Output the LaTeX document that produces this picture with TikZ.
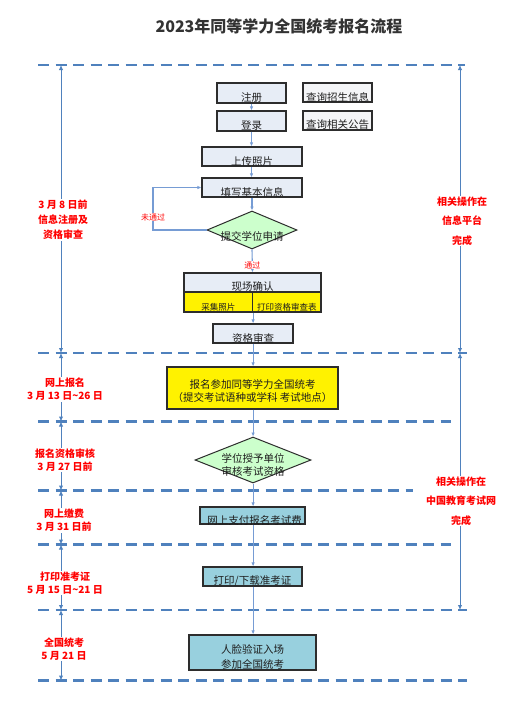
\documentclass[tikz,border=0pt]{standalone}
\usepackage{fontspec}
\setmainfont{Noto Sans CJK SC}
\usetikzlibrary{arrows.meta,shapes.geometric}
\definecolor{dashblue}{RGB}{79,129,189}
\definecolor{flowblue}{RGB}{118,156,212}
\definecolor{boxfill}{RGB}{231,237,246}
\definecolor{qfill}{RGB}{244,245,247}
\definecolor{cyanfill}{RGB}{152,208,222}
\definecolor{greenfill}{RGB}{204,255,204}
\definecolor{bordergray}{RGB}{45,45,45}
\definecolor{titlegray}{RGB}{51,51,51}
\definecolor{textdark}{RGB}{30,30,30}
\begin{document}
\begin{tikzpicture}[x=1pt,y=-1pt,
  sep/.style={draw=dashblue, line width=2.6pt, dash pattern=on 11pt off 6.5pt},
  span/.style={draw=dashblue, line width=1pt, {Latex[length=5pt,width=4.5pt]}-{Latex[length=5pt,width=4.5pt]}},
  flow/.style={draw=flowblue, line width=1.1pt, -{Latex[length=4pt,width=3.5pt]}},
  box/.style={rectangle, draw=bordergray, line width=1.2pt, fill=boxfill, inner sep=0pt},
  dia/.style={diamond, draw=bordergray, line width=1pt, fill=greenfill, inner sep=0pt},
  bt/.style={font=\fontsize{10.5}{13}\selectfont, text=textdark, align=center},
  st/.style={font=\fontsize{8.5}{10}\selectfont, text=textdark, align=center},
  redl/.style={font=\bfseries\fontsize{10}{13}\selectfont, text=red, fill=white, align=center, inner sep=1pt},
  reds/.style={font=\fontsize{8}{9}\selectfont, text=red, fill=white, inner sep=0.5pt},
]
\useasboundingbox (0,0) rectangle (506,712);
\fill[white] (0,0) rectangle (506,712);

% title
\node[font=\bfseries\fontsize{16}{18}\selectfont, text=titlegray] (title) at (279,26) {2023年同等学力全国统考报名流程};

% dashed separators
\draw[sep] (38,65) -- (465,65);
\draw[sep] (38,353) -- (467,353);
\draw[sep] (38,421.5) -- (451,421.5);
\draw[sep] (38,490.5) -- (413,490.5);
\draw[sep] (38,544.5) -- (451,544.5);
\draw[sep] (38,610) -- (467,610);
\draw[sep] (38,680.5) -- (467,680.5);

% left spans
\coordinate (a0) at (61,65);
\coordinate (a1) at (61,353);
\coordinate (a2) at (61,421.5);
\coordinate (a3) at (61,490.5);
\coordinate (a4) at (61,544.5);
\coordinate (a5) at (61,610);
\coordinate (a6) at (61,680.5);
\draw[span] (a0) -- (a1);
\draw[span] (a1) -- (a2);
\draw[span] (a2) -- (a3);
\draw[span] (a3) -- (a4);
\draw[span] (a4) -- (a5);
\draw[span] (a5) -- (a6);
\node[redl, font=\bfseries\fontsize{10}{15}\selectfont] (l1) at (63,220) {3 月 8 日前\\信息注册及\\资格审查};
\node[redl] (l2) at (65,389.5) {网上报名\\3 月 13 日\textasciitilde 26 日};
\node[redl] (l3) at (65,460) {报名资格审核\\3 月 27 日前};
\node[redl] (l4) at (64,520.5) {网上缴费\\3 月 31 日前};
\node[redl] (l5) at (65,583) {打印准考证\\5 月 15 日\textasciitilde 21 日};
\node[redl] (l6) at (64,649) {全国统考\\5 月 21 日};

% right spans
\coordinate (b0) at (460,65);
\coordinate (b1) at (460,353);
\coordinate (b2) at (460,610);
\draw[span] (b0) -- (b1);
\draw[span] (b1) -- (b2);
\node[redl, font=\bfseries\fontsize{10}{19.5}\selectfont] (r1) at (462,221) {相关操作在\\信息平台\\完成};
\node[redl, font=\bfseries\fontsize{10}{19.5}\selectfont] (r2) at (461,501) {相关操作在\\中国教育考试网\\完成};

% flow boxes
\node[box, minimum width=69pt, minimum height=20pt, label={[bt,yshift=-5pt]center:注册}] (zc) at (251.5,93) {};
\node[box, fill=qfill, minimum width=69pt, minimum height=19pt, label={[bt,yshift=-4.5pt]center:查询招生信息}] (cx1) at (337.5,92.5) {};
\node[box, minimum width=69pt, minimum height=20pt, label={[bt,yshift=-5pt]center:登录}] (dl) at (251.5,121) {};
\node[box, fill=qfill, minimum width=69pt, minimum height=19pt, label={[bt,yshift=-4.5pt]center:查询相关公告}] (cx2) at (337.5,120.5) {};
\node[box, minimum width=100pt, minimum height=19pt, label={[bt,yshift=-5pt]center:上传照片}] (sc) at (252,156.5) {};
\node[box, minimum width=100pt, minimum height=19pt, label={[bt,yshift=-5pt]center:填写基本信息}] (tx) at (252,187.5) {};
\node[dia, minimum width=90pt, minimum height=38pt, label={[bt,yshift=-6pt]center:提交学位申请}] (d1) at (252,230) {};
\node[box, minimum width=137pt, minimum height=19pt, label={[bt,yshift=-4.5pt]center:现场确认}] (xc) at (252.5,282.5) {};
\node[box, fill=yellow, minimum width=68.5pt, minimum height=20pt, label={[st,yshift=-5.5pt]center:采集照片}] (cj) at (218.25,302) {};
\node[box, fill=yellow, minimum width=68.5pt, minimum height=20pt, label={[st,yshift=-5.5pt]center:打印资格审查表}] (dy) at (286.75,302) {};
\node[box, minimum width=80pt, minimum height=19pt, label={[bt,yshift=-4.5pt]center:资格审查}] (zg) at (253,333.5) {};
\node[box, fill=yellow, minimum width=171pt, minimum height=42pt, label={[bt,yshift=-3.5pt]center:报名参加同等学力全国统考\\（提交考试语种或学科 考试地点）}] (bm) at (252.5,388) {};
\node[dia, minimum width=116pt, minimum height=46pt, label={[bt,yshift=-4.5pt]center:学位授予单位\\审核考试资格}] (d2) at (253,460) {};
\node[box, fill=cyanfill, minimum width=105pt, minimum height=17pt, label={[bt,yshift=-4.5pt,xshift=2pt]center:网上支付报名考试费}] (zf) at (252.5,515.5) {};
\node[box, fill=cyanfill, minimum width=99pt, minimum height=19pt, label={[bt,yshift=-5pt]center:打印/下载准考证}] (zk) at (252.5,576.5) {};
\node[box, fill=cyanfill, minimum width=127pt, minimum height=35pt, label={[bt,yshift=-4pt,font=\fontsize{10.5}{15}\selectfont]center:人脸验证入场\\参加全国统考}] (rl) at (252.5,652.5) {};

% connectors
\draw[flow] (zc.south) -- (dl.north);
\draw[flow] (dl.south) -- (dl.south |- sc.north);
\draw[flow] (dl.south |- sc.south) -- (dl.south |- tx.north);
\draw[flow] (tx.south) -- (d1.north);
\draw[flow] (d1.south) -- node[reds, pos=0.68] (tg) {通过} (xc.north);
\draw[flow] (cj.south east) -- (cj.south east |- zg.north);
\draw[flow] (zg.south -| cj.south east) -- (bm.north -| cj.south east);
\draw[flow] (bm.south -| cj.south east) -- (d2.north -| cj.south east);
\draw[flow] (d2.south -| cj.south east) -- (zf.north -| cj.south east);
\draw[flow] (zf.south -| cj.south east) -- (zk.north -| cj.south east);
\draw[flow] (zk.south -| cj.south east) -- (rl.north -| cj.south east);
\coordinate (fb) at (153,230);
\draw[flow] (d1.west) -- (fb) |- (tx.west);
\node[reds] (wtg) at (153,217) {未通过};
\end{tikzpicture}
\end{document}
